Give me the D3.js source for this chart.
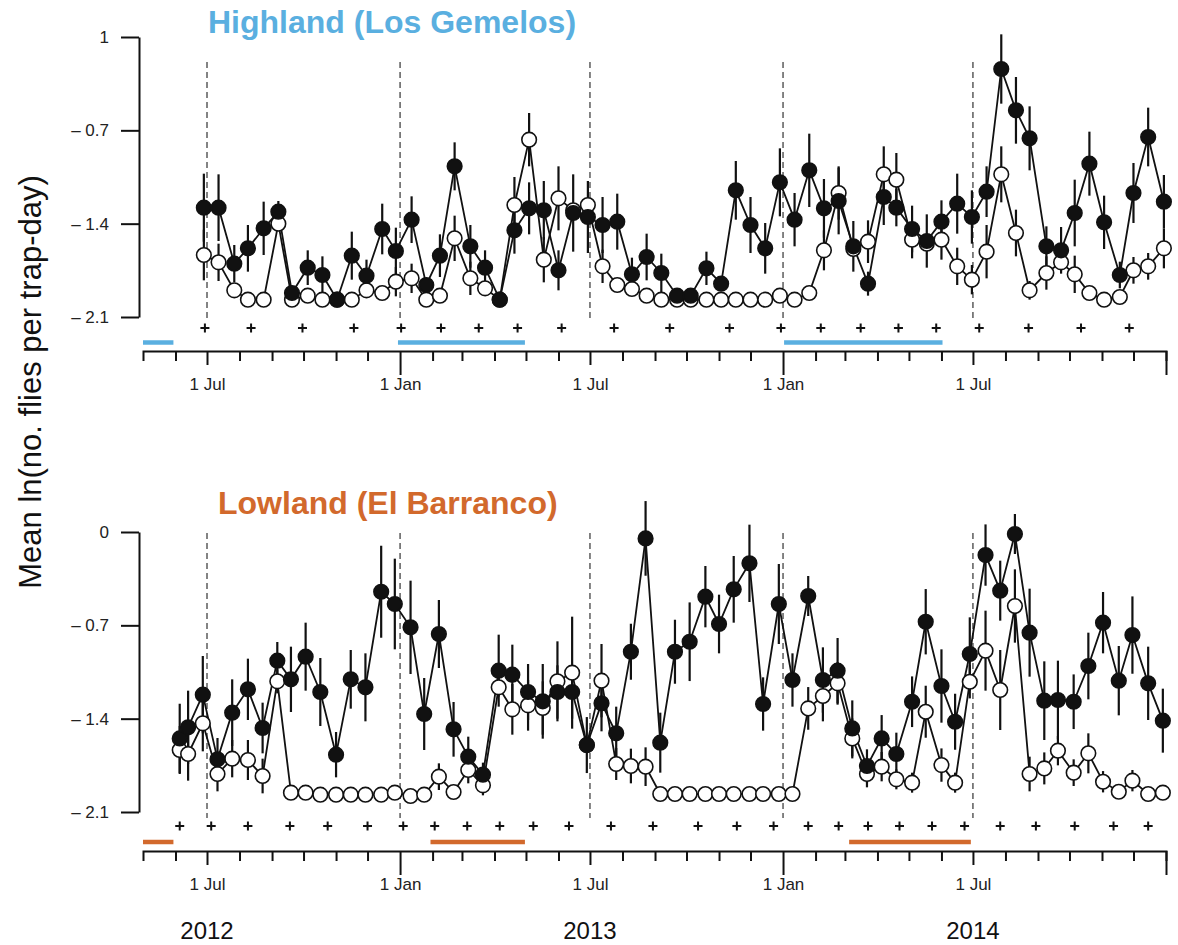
<!DOCTYPE html>
<html><head><meta charset="utf-8">
<script src="https://cdn.jsdelivr.net/npm/d3@7"></script>
<style>
body{margin:0;background:#fff}
svg{display:block}
text{font-family:"Liberation Sans",Arial,Helvetica,sans-serif}
</style>
</head><body>
<svg id="chart" width="1178" height="945"></svg>
<script>
// ---------- data (days since 1 May 2012) ----------
const hiDays = [58,72,87,100,115,129,142,157,171,185,199,213,228,241,256,270,283,297,312,
  326,340,354,368,382,396,410,424,438,452,466,480,494,509,522,537,551,565,579,593,607,621,635,
  649,663,677,691,706,718,733,747,761,776,790,804,818,832,845,861,875,888,902,916,931,944,958,973];
const hiFilled = [-1.28,-1.28,-1.70,-1.585,-1.435,-1.31,-1.92,-1.73,-1.785,-1.97,-1.64,-1.79,-1.44,-1.605,-1.37,-1.86,-1.64,-0.97,-1.57,
  -1.73,-1.97,-1.45,-1.285,-1.30,-1.75,-1.32,-1.35,-1.41,-1.385,-1.78,-1.65,-1.77,-1.94,-1.94,-1.735,-1.85,-1.15,-1.41,-1.585,-1.09,-1.37,-1.00,
  -1.285,-1.23,-1.57,-1.85,-1.20,-1.28,-1.44,-1.53,-1.385,-1.25,-1.35,-1.16,-0.24,-0.55,-0.76,-1.57,-1.60,-1.32,-0.95,-1.39,-1.785,-1.17,-0.75,-1.235];
const hiFilledSE = [.255,.25,.14,.175,.2,.08,.03,.13,.14,.02,.18,.12,.19,.175,.175,.05,.16,.18,.16,
  .13,.02,.175,.195,.22,.15,.29,.27,.21,.21,.125,.175,.145,.03,.03,.125,.04,.22,.21,.19,.255,.2,.275,
  .22,.25,.19,.09,.21,.14,.175,.2,.16,.225,.2,.19,.26,.25,.24,.15,.175,.25,.24,.2,.1,.225,.22,.2];
const hiOpen = [-1.635,-1.69,-1.90,-1.97,-1.97,-1.40,-1.97,-1.94,-1.97,-1.97,-1.97,-1.90,-1.92,-1.835,-1.81,-1.97,-1.94,-1.51,-1.81,
  -1.885,-1.97,-1.26,-0.77,-1.67,-1.21,-1.30,-1.26,-1.72,-1.86,-1.89,-1.94,-1.97,-1.97,-1.97,-1.97,-1.97,-1.97,-1.97,-1.97,-1.94,-1.97,-1.92,
  -1.60,-1.17,-1.59,-1.535,-1.03,-1.07,-1.52,-1.55,-1.52,-1.72,-1.82,-1.61,-1.03,-1.47,-1.90,-1.77,-1.69,-1.78,-1.92,-1.97,-1.95,-1.75,-1.72,-1.585];
const hiOpenSE = [.19,.14,.04,0,0,.05,0,.03,0,0,0,.05,.04,.11,.11,0,.03,.17,.125,
  .05,0,.21,.2,.17,.24,.05,.05,.125,.05,.04,.03,0,0,0,0,0,0,0,0,.03,0,.04,
  .15,.2,.05,.16,.21,.2,.14,.05,.15,.14,.11,.2,.21,.175,.07,.125,.05,.14,.04,0,.03,.1,.1,.15];
const hiPlusDays = [59,103,152,201,246,284,320,357,399,449,502,559,608,646,684,720,756,797,844,894,940];
const hiPeriods = [[0,29],[243,364],[611,762]];

const loDays = [35,43,57,71,85,100,114,128,141,155,169,184,198,212,227,240,255,268,282,296,310,
  324,339,352,367,381,395,409,423,437,451,465,479,493,507,521,536,549,563,578,591,606,619,634,
  648,662,676,690,704,718,733,746,761,774,788,803,817,831,845,859,872,887,901,915,930,943,958,972];
const loFilled = [-1.548,-1.465,-1.22,-1.705,-1.355,-1.18,-1.47,-0.965,-1.105,-0.935,-1.20,-1.67,-1.105,-1.165,-0.448,-0.54,-0.715,-1.365,-0.765,-1.48,-1.685,
  -1.82,-1.04,-1.07,-1.20,-1.27,-1.20,-1.20,-1.598,-1.285,-1.51,-0.898,-0.048,-1.58,-0.898,-0.823,-0.485,-0.69,-0.43,-0.235,-1.29,-0.54,-1.11,-0.48,
  -1.11,-1.04,-1.473,-1.755,-1.548,-1.665,-1.273,-0.673,-1.155,-1.423,-0.915,-0.173,-0.44,-0.015,-0.755,-1.265,-1.26,-1.273,-1.005,-0.68,-1.115,-0.773,-1.135,-1.415];
const loFilledSE = [.26,.275,.29,.16,.25,.23,.19,.14,.245,.255,.255,.17,.22,.255,.345,.34,.35,.27,.255,.205,.15,
  .09,.27,.225,.21,.28,.2,.2,.21,.21,.2,.21,.28,.225,.24,.295,.23,.22,.25,.29,.2,.3,.2,.15,
  .245,.245,.21,.125,.175,.16,.19,.245,.275,.21,.275,.23,.225,.15,.33,.295,.295,.205,.25,.23,.26,.29,.275,.24];
const loOpen = [-1.635,-1.665,-1.435,-1.815,-1.70,-1.71,-1.83,-1.12,-1.955,-1.955,-1.97,-1.97,-1.97,-1.97,-1.97,-1.955,-1.98,-1.97,-1.835,-1.95,-1.785,
  -1.90,-1.165,-1.33,-1.30,-1.32,-1.12,-1.055,-1.598,-1.115,-1.74,-1.755,-1.76,-1.965,-1.965,-1.965,-1.965,-1.965,-1.965,-1.965,-1.965,-1.965,-1.965,-1.323,
  -1.23,-1.135,-1.548,-1.815,-1.76,-1.855,-1.88,-1.348,-1.748,-1.88,-1.123,-0.89,-1.185,-0.555,-1.815,-1.773,-1.64,-1.805,-1.66,-1.873,-1.948,-1.865,-1.965,-1.955];
const loOpenSE = [.18,.2,.21,.13,.14,.15,.13,.09,0,0,0,0,0,0,0,0,0,0,.1,0,.1,
  .075,.07,.19,.19,.2,.3,.42,.05,.275,.12,.13,.145,0,0,0,0,0,0,0,0,0,0,.16,
  .19,.16,.15,.1,.11,.075,.075,.195,.125,.075,.125,.3,.3,.275,.13,.12,.11,.1,.15,.08,0,.08,0,0];
const loPlusDays = [35,65,100,140,176,214,248,278,309,340,372,406,446,486,529,566,601,634,663,691,721,752,783,817,851,888,925,958];
const loPeriods = [[0,29],[274,364],[673,789]];

const yTickValues = [0,-0.7,-1.4,-2.1];
const hiTickLabels = ["1","\u2013 0.7","\u2013 1.4","\u2013 2.1"];
const loTickLabels = ["0","\u2013 0.7","\u2013 1.4","\u2013 2.1"];
const dashDates = ["2012-07-01","2013-01-01","2013-07-01","2014-01-01","2014-07-01"];
const yearLabels = ["2012","2013","2014"];
const yearDates = ["2012-07-01","2013-07-01","2014-07-01"];

// ---------- setup ----------
const svg = d3.select("#chart");
const base = Date.UTC(2012,4,1);
const dayDate = d => new Date(base + d*864e5);
const x = d3.scaleUtc().domain([new Date(Date.UTC(2012,4,1)), new Date(Date.UTC(2015,0,1))]).range([143,1166]);

const panels = [
  {days:hiDays, filled:hiFilled, fse:hiFilledSE, open:hiOpen, ose:hiOpenSE, plus:hiPlusDays, periods:hiPeriods,
   labels:hiTickLabels, yRange:[317,37], axisY:351, plusY:328, barY:342.5, dash:[62,320],
   title:"Highland (Los Gemelos)", color:"#5aafe0", titleX:208, titleY:33},
  {days:loDays, filled:loFilled, fse:loFilledSE, open:loOpen, ose:loOpenSE, plus:loPlusDays, periods:loPeriods,
   labels:loTickLabels, yRange:[812,532], axisY:851, plusY:826, barY:842, dash:[533,818],
   title:"Lowland (El Barranco)", color:"#d2692c", titleX:218, titleY:514}
];

panels.forEach(p => {
  const y = d3.scaleLinear().domain([-2.1,0]).range(p.yRange);
  const g = svg.append("g");

  // title
  g.append("text").attr("x",p.titleX).attr("y",p.titleY)
    .attr("font-size",32).attr("font-weight","bold").attr("fill",p.color).text(p.title);

  // y axis
  const ya = g.append("g").attr("transform","translate(139,0)")
    .call(d3.axisLeft(y).tickValues(yTickValues).tickSize(18).tickSizeOuter(0).tickPadding(12)
      .tickFormat((d,i)=>p.labels[i]));
  ya.select(".domain").attr("stroke","#111").attr("stroke-width",2);
  ya.selectAll(".tick line").attr("stroke","#111").attr("stroke-width",2);
  ya.selectAll(".tick text").attr("font-size",17).attr("fill","#222").attr("font-family","Liberation Sans, Arial, sans-serif");

  // dashed lines
  g.selectAll(".dash").data(dashDates).join("line")
    .attr("x1",d=>x(new Date(d+"T00:00:00Z"))).attr("x2",d=>x(new Date(d+"T00:00:00Z")))
    .attr("y1",p.dash[0]).attr("y2",p.dash[1])
    .attr("stroke","#333").attr("stroke-width",1.2).attr("stroke-dasharray","6,4");

  // x axis
  const months = d3.utcMonth.range(new Date(Date.UTC(2012,5,1)), new Date(Date.UTC(2015,0,2)));
  const xa = g.append("g").attr("transform",`translate(0,${p.axisY})`)
    .call(d3.axisBottom(x).tickValues(months).tickSizeOuter(0).tickSize(10)
      .tickFormat(d => d.getUTCMonth()===6 ? "1 Jul" : (d.getUTCMonth()===0 && d.getUTCFullYear()<2015 ? "1 Jan" : "")));
  xa.select(".domain").attr("stroke","#111").attr("stroke-width",2);
  xa.selectAll(".tick line").attr("stroke","#111").attr("stroke-width",2)
    .attr("y2",d => d.getUTCMonth()===0 ? 24 : (d.getUTCMonth()===6 ? 14 : 10));
  xa.selectAll(".tick text").attr("y",27).attr("font-size",17).attr("fill","#222")
    .attr("font-family","Liberation Sans, Arial, sans-serif");

  // period bars
  g.selectAll(".period").data(p.periods).join("line")
    .attr("x1",d=>x(dayDate(d[0]))).attr("x2",d=>x(dayDate(d[1])))
    .attr("y1",p.barY).attr("y2",p.barY)
    .attr("stroke",p.color).attr("stroke-width",4.5);

  // plus markers
  g.selectAll(".plus").data(p.plus).join("path")
    .attr("d",d=>{const cx=x(dayDate(d)), cy=p.plusY; return `M${cx-4.5},${cy}H${cx+4.5}M${cx},${cy-4.5}V${cy+4.5}`;})
    .attr("stroke","#111").attr("stroke-width",2).attr("fill","none");

  const fData = p.days.map((d,i)=>({d, v:p.filled[i], se:p.fse[i]}));
  const oData = p.days.map((d,i)=>({d, v:p.open[i], se:p.ose[i]}));
  const line = d3.line().x(q=>x(dayDate(q.d))).y(q=>y(q.v));

  // error bars
  [oData,fData].forEach(data=>{
    g.append("g").selectAll("line").data(data.filter(q=>q.se>0)).join("line")
      .attr("x1",q=>x(dayDate(q.d))).attr("x2",q=>x(dayDate(q.d)))
      .attr("y1",q=>y(q.v-q.se)).attr("y2",q=>y(q.v+q.se))
      .attr("stroke","#111").attr("stroke-width",2.2);
  });
  // lines
  [oData,fData].forEach(data=>{
    g.append("path").datum(data).attr("d",line).attr("fill","none")
      .attr("stroke","#111").attr("stroke-width",1.8);
  });
  // points
  g.append("g").selectAll("circle").data(oData).join("circle")
    .attr("cx",q=>x(dayDate(q.d))).attr("cy",q=>y(q.v)).attr("r",7.3)
    .attr("fill","#fff").attr("stroke","#111").attr("stroke-width",1.6);
  g.append("g").selectAll("circle").data(fData).join("circle")
    .attr("cx",q=>x(dayDate(q.d))).attr("cy",q=>y(q.v)).attr("r",7.3)
    .attr("fill","#111").attr("stroke","#111").attr("stroke-width",1.6);
});

// year labels
svg.selectAll(".year").data(yearLabels).join("text")
  .attr("x",(d,i)=>x(new Date(yearDates[i]+"T00:00:00Z"))).attr("y",939)
  .attr("text-anchor","middle").attr("font-size",24).attr("fill","#111").text(d=>d);

// y-axis title
svg.append("text").attr("transform","translate(41,382) rotate(-90)")
  .attr("text-anchor","middle").attr("font-size",31).attr("fill","#111")
  .text("Mean ln(no. flies per trap-day)");
</script>
</body></html>
